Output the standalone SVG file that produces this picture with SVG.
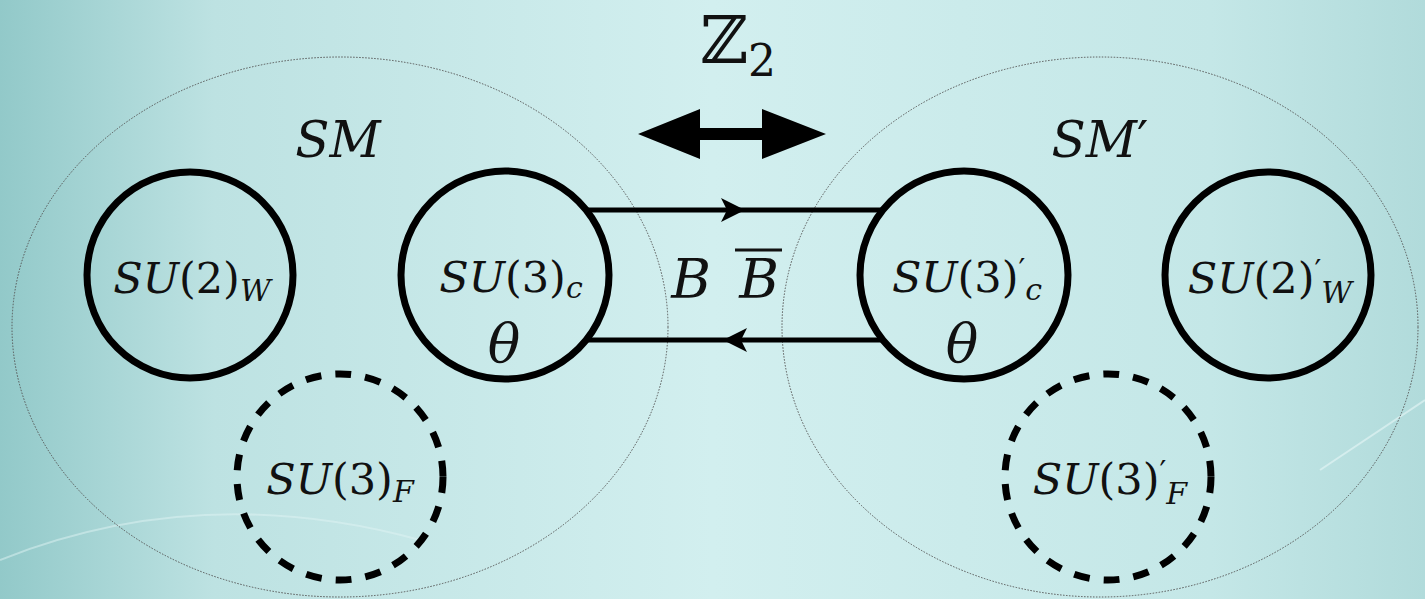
<svg xmlns="http://www.w3.org/2000/svg" width="1425" height="599" viewBox="0 0 1425 599">
<defs>
<linearGradient id="bg" x1="0" y1="0" x2="1" y2="0">
<stop offset="0" stop-color="#92c9c9"/>
<stop offset="0.15" stop-color="#bde2e2"/>
<stop offset="0.5" stop-color="#d2efef"/>
<stop offset="0.85" stop-color="#c4e7e7"/>
<stop offset="1" stop-color="#b1dbdb"/>
</linearGradient>
</defs>
<style>
.grp{fill:none;stroke:#555;stroke-width:1;stroke-dasharray:1.5 1.5}
.c{fill:none;stroke:#000;stroke-width:7}
.d{fill:none;stroke:#000;stroke-width:7;stroke-dasharray:16 14}
.t{font-style:italic;fill:#111}
.n{font-style:normal}
.lbl{font-size:43px}
.sub{font-size:30px}
.ln{stroke:#000;stroke-width:5;fill:none}
</style>
<rect width="1425" height="599" fill="url(#bg)"/>
<path d="M0 560 Q200 480 420 540" stroke="#e0f4f4" stroke-width="2" fill="none" opacity="0.5"/>
<path d="M1425 400 L1320 470" stroke="#e8f7f7" stroke-width="2" fill="none" opacity="0.6"/>
<g font-family="'DejaVu Serif', 'Liberation Serif', serif">
<g id="sm">
<ellipse class="grp" cx="340" cy="327" rx="328" ry="270"/>
<text class="t" x="338" y="157" font-size="50" text-anchor="middle">SM</text>
</g>
<g id="smp">
<ellipse class="grp" cx="1100" cy="327" rx="318" ry="270"/>
<text class="t" x="1100" y="157" font-size="50" text-anchor="middle">SM<tspan class="n">′</tspan></text>
</g>
<g id="z2">
<text x="738" y="63" font-size="66" fill="#111" text-anchor="middle">ℤ<tspan font-size="44" dy="13">2</tspan></text>
<path d="M638 134 L700 109 L700 128 L762 128 L762 109 L826 134 L762 159 L762 140 L700 140 L700 159 Z" fill="#000"/>
</g>
<g id="connectors">
<line class="ln" x1="585" y1="210" x2="882" y2="210"/>
<line class="ln" x1="585" y1="340" x2="882" y2="340"/>
<path d="M745 210 L721 198 L727 210 L721 222 Z" fill="#000"/>
<path d="M723 340 L747 328 L741 340 L747 352 Z" fill="#000"/>
<text class="t" x="691" y="298" font-size="54" text-anchor="middle">B</text>
<text class="t" x="759" y="298" font-size="54" text-anchor="middle">B</text>
<line x1="735" y1="250" x2="782" y2="250" stroke="#111" stroke-width="3"/>
</g>
<g id="su2w">
<circle class="c" cx="190" cy="275" r="103"/>
<text class="t lbl" x="192" y="293" text-anchor="middle">SU<tspan class="n">(2)</tspan><tspan class="sub" dy="8">W</tspan></text>
</g>
<g id="su3c">
<circle class="c" cx="505" cy="275" r="104"/>
<text class="t lbl" x="511" y="292" text-anchor="middle">SU<tspan class="n">(3)</tspan><tspan class="sub" dy="6">c</tspan></text>
<text class="t" x="504" y="362" font-size="54" text-anchor="middle">θ</text>
</g>
<g id="su3cp">
<circle class="c" cx="964" cy="275" r="104"/>
<text class="t lbl" x="967" y="292" text-anchor="middle">SU<tspan class="n">(3)</tspan><tspan class="sub n" dy="-12">′</tspan><tspan class="sub" dy="20">c</tspan></text>
<text class="t" x="962" y="362" font-size="54" text-anchor="middle">θ</text>
</g>
<g id="su2wp">
<circle class="c" cx="1268" cy="275" r="103"/>
<text class="t lbl" x="1270" y="293" text-anchor="middle">SU<tspan class="n">(2)</tspan><tspan class="sub n" dy="-12">′</tspan><tspan class="sub" dy="22">W</tspan></text>
</g>
<g id="su3f">
<circle class="d" cx="340" cy="477" r="103"/>
<text class="t lbl" x="340" y="494" text-anchor="middle">SU<tspan class="n">(3)</tspan><tspan class="sub" dy="8">F</tspan></text>
</g>
<g id="su3fp">
<circle class="d" cx="1108" cy="477" r="103"/>
<text class="t lbl" x="1110" y="494" text-anchor="middle">SU<tspan class="n">(3)</tspan><tspan class="sub n" dy="-12">′</tspan><tspan class="sub" dy="22">F</tspan></text>
</g>
</g>
</svg>
